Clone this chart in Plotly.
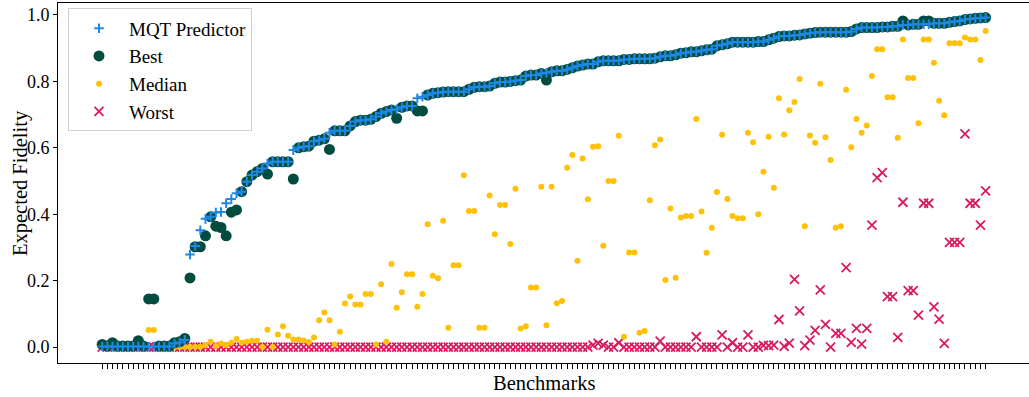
import plotly.graph_objects as go

# Expected fidelity per benchmark (benchmarks sorted by the predictor's fidelity)
mqt_predictor = [
    0.002, 0.002, 0.002, 0.002, 0.002, 0.002, 0.002, 0.002, 0.002, 0.002,
    0.002, 0.002, 0.002, 0.002, 0.011, 0.014, 0.021, 0.279, 0.304, 0.352,
    0.386, 0.392, 0.405, 0.407, 0.433, 0.446, 0.463, 0.468, 0.498, 0.518,
    0.528, 0.538, 0.553, 0.558, 0.558, 0.558, 0.558, 0.593, 0.600, 0.603,
    0.605, 0.620, 0.623, 0.627, 0.645, 0.651, 0.651, 0.651, 0.666, 0.679,
    0.683, 0.683, 0.686, 0.694, 0.704, 0.709, 0.714, 0.716, 0.722, 0.726,
    0.726, 0.749, 0.754, 0.759, 0.764, 0.766, 0.768, 0.769, 0.769, 0.769,
    0.769, 0.776, 0.782, 0.784, 0.784, 0.786, 0.794, 0.798, 0.798, 0.800,
    0.802, 0.804, 0.816, 0.819, 0.819, 0.824, 0.826, 0.829, 0.832, 0.832,
    0.836, 0.841, 0.846, 0.849, 0.852, 0.852, 0.859, 0.862, 0.862, 0.862,
    0.862, 0.866, 0.866, 0.868, 0.868, 0.868, 0.868, 0.870, 0.874, 0.877,
    0.877, 0.880, 0.885, 0.886, 0.889, 0.889, 0.892, 0.895, 0.897, 0.907,
    0.910, 0.913, 0.918, 0.918, 0.918, 0.918, 0.918, 0.920, 0.920, 0.925,
    0.930, 0.935, 0.937, 0.937, 0.939, 0.940, 0.943, 0.945, 0.947, 0.948,
    0.948, 0.948, 0.948, 0.948, 0.948, 0.950, 0.958, 0.962, 0.962, 0.962,
    0.962, 0.964, 0.964, 0.966, 0.966, 0.970, 0.970, 0.972, 0.972, 0.972,
    0.972, 0.975, 0.975, 0.975, 0.978, 0.980, 0.982, 0.986, 0.988, 0.990,
    0.991, 0.992,
]

best = [
    0.008, 0.003, 0.013, 0.003, 0.003, 0.003, 0.003, 0.019, 0.003, 0.145,
    0.145, 0.003, 0.003, 0.003, 0.013, 0.016, 0.026, 0.208, 0.302, 0.302,
    0.335, 0.392, 0.364, 0.360, 0.335, 0.406, 0.413, 0.468, 0.498, 0.518,
    0.528, 0.538, 0.521, 0.558, 0.558, 0.558, 0.558, 0.506, 0.600, 0.603,
    0.605, 0.620, 0.623, 0.627, 0.595, 0.651, 0.651, 0.651, 0.666, 0.679,
    0.683, 0.683, 0.686, 0.694, 0.704, 0.709, 0.714, 0.689, 0.722, 0.726,
    0.726, 0.711, 0.711, 0.759, 0.764, 0.766, 0.768, 0.769, 0.769, 0.769,
    0.769, 0.776, 0.782, 0.784, 0.784, 0.786, 0.794, 0.798, 0.798, 0.800,
    0.802, 0.804, 0.816, 0.819, 0.819, 0.824, 0.804, 0.829, 0.832, 0.832,
    0.836, 0.841, 0.846, 0.849, 0.852, 0.852, 0.859, 0.862, 0.862, 0.862,
    0.862, 0.866, 0.866, 0.868, 0.868, 0.868, 0.868, 0.870, 0.874, 0.877,
    0.877, 0.880, 0.885, 0.886, 0.889, 0.889, 0.892, 0.895, 0.897, 0.907,
    0.910, 0.913, 0.918, 0.918, 0.918, 0.918, 0.918, 0.920, 0.920, 0.925,
    0.930, 0.935, 0.937, 0.937, 0.939, 0.940, 0.943, 0.945, 0.947, 0.948,
    0.948, 0.948, 0.948, 0.948, 0.948, 0.950, 0.958, 0.962, 0.962, 0.962,
    0.962, 0.964, 0.964, 0.966, 0.966, 0.982, 0.970, 0.972, 0.972, 0.982,
    0.982, 0.975, 0.975, 0.975, 0.978, 0.980, 0.982, 0.986, 0.988, 0.990,
    0.991, 0.992,
]

median = [
    0.000, 0.000, 0.000, 0.000, 0.000, 0.000, 0.000, 0.000, 0.000, 0.051,
    0.051, 0.000, 0.000, 0.000, 0.000, 0.000, 0.000, 0.000, 0.001, 0.001,
    0.006, 0.016, 0.003, 0.011, 0.006, 0.013, 0.024, 0.013, 0.016, 0.019,
    0.019, 0.000, 0.052, 0.000, 0.038, 0.063, 0.034, 0.023, 0.023, 0.020,
    0.015, 0.029, 0.081, 0.104, 0.081, 0.008, 0.046, 0.131, 0.152, 0.128,
    0.128, 0.160, 0.160, 0.008, 0.189, 0.016, 0.250, 0.118, 0.165, 0.219,
    0.219, 0.121, 0.160, 0.370, 0.215, 0.207, 0.380, 0.058, 0.246, 0.246,
    0.517, 0.410, 0.410, 0.058, 0.058, 0.456, 0.340, 0.428, 0.428, 0.310,
    0.477, 0.056, 0.063, 0.179, 0.179, 0.483, 0.066, 0.483, 0.132, 0.139,
    0.540, 0.578, 0.260, 0.568, 0.445, 0.603, 0.605, 0.305, 0.500, 0.500,
    0.636, 0.031, 0.285, 0.285, 0.043, 0.048, 0.442, 0.608, 0.625, 0.202,
    0.417, 0.209, 0.390, 0.395, 0.395, 0.687, 0.408, 0.284, 0.359, 0.467,
    0.639, 0.446, 0.395, 0.388, 0.388, 0.645, 0.617, 0.400, 0.528, 0.633,
    0.480, 0.749, 0.640, 0.713, 0.738, 0.807, 0.364, 0.637, 0.615, 0.793,
    0.632, 0.563, 0.359, 0.364, 0.775, 0.602, 0.687, 0.645, 0.667, 0.816,
    0.897, 0.897, 0.752, 0.752, 0.630, 0.926, 0.810, 0.810, 0.674, 0.926,
    0.926, 0.856, 0.742, 0.698, 0.915, 0.915, 0.915, 0.932, 0.926, 0.926,
    0.864, 0.952,
]

worst = [
    0.000, 0.000, 0.000, 0.000, 0.000, 0.000, 0.000, 0.000, 0.000, 0.000,
    0.000, 0.000, 0.000, 0.000, 0.000, 0.000, 0.000, 0.000, 0.000, 0.000,
    0.000, 0.000, 0.000, 0.000, 0.000, 0.000, 0.000, 0.000, 0.000, 0.000,
    0.000, 0.000, 0.000, 0.000, 0.000, 0.000, 0.000, 0.000, 0.000, 0.000,
    0.000, 0.000, 0.000, 0.000, 0.000, 0.000, 0.000, 0.000, 0.000, 0.000,
    0.000, 0.000, 0.000, 0.000, 0.000, 0.000, 0.000, 0.000, 0.000, 0.000,
    0.000, 0.000, 0.000, 0.000, 0.000, 0.000, 0.000, 0.000, 0.000, 0.000,
    0.000, 0.000, 0.000, 0.000, 0.000, 0.000, 0.000, 0.000, 0.000, 0.000,
    0.000, 0.000, 0.000, 0.000, 0.000, 0.000, 0.000, 0.000, 0.000, 0.000,
    0.000, 0.000, 0.000, 0.000, 0.000, 0.006, 0.011, 0.006, 0.000, 0.000,
    0.013, 0.000, 0.000, 0.000, 0.000, 0.000, 0.000, 0.000, 0.018, 0.000,
    0.000, 0.000, 0.000, 0.000, 0.000, 0.031, 0.000, 0.000, 0.000, 0.000,
    0.037, 0.000, 0.013, 0.000, 0.000, 0.037, 0.000, 0.000, 0.005, 0.004,
    0.006, 0.083, 0.002, 0.012, 0.204, 0.109, 0.004, 0.021, 0.050, 0.172,
    0.068, 0.000, 0.041, 0.041, 0.239, 0.014, 0.056, 0.009, 0.056, 0.367,
    0.510, 0.525, 0.152, 0.152, 0.029, 0.436, 0.170, 0.170, 0.096, 0.433,
    0.433, 0.121, 0.084, 0.011, 0.315, 0.315, 0.315, 0.642, 0.433, 0.433,
    0.367, 0.470,
]

y_ticks = [0.0, 0.2, 0.4, 0.6, 0.8, 1.0]
y_tick_labels = ["0.0", "0.2", "0.4", "0.6", "0.8", "1.0"]

benchmarks = list(range(len(mqt_predictor)))

FONT = "Liberation Serif, Times New Roman, serif"

fig = go.Figure()

# drawn bottom to top: worst, median, best, predictor
fig.add_trace(go.Scatter(
    x=benchmarks, y=worst, mode="markers", name="Worst", legendrank=4,
    marker=dict(symbol="x-thin", size=9, color="#D81B60",
                line=dict(color="#D81B60", width=1.8)),
))
fig.add_trace(go.Scatter(
    x=benchmarks, y=median, mode="markers", name="Median", legendrank=3,
    marker=dict(symbol="circle", size=6, color="#FFC107", line=dict(width=0)),
))
fig.add_trace(go.Scatter(
    x=benchmarks, y=best, mode="markers", name="Best", legendrank=2,
    marker=dict(symbol="circle", size=11, color="#004D40", line=dict(width=0)),
))
fig.add_trace(go.Scatter(
    x=benchmarks, y=mqt_predictor, mode="markers", name="MQT Predictor",
    legendrank=1,
    marker=dict(symbol="cross-thin", size=6.8, color="#1E88E5",
                line=dict(color="#1E88E5", width=2)),
))

fig.update_layout(
    width=1029, height=397,
    margin=dict(l=58, r=0, t=3, b=34),
    paper_bgcolor="white", plot_bgcolor="white",
    font=dict(family=FONT, color="black", size=18),
    showlegend=True,
    legend=dict(
        x=0.0103, y=0.985, xanchor="left", yanchor="top",
        bgcolor="rgba(255,255,255,0.85)", bordercolor="#d0d0d0", borderwidth=1,
        font=dict(family=FONT, size=19, color="black"),
        itemsizing="trace", itemwidth=50,
    ),
    xaxis=dict(
        range=[-8.55, 179.4], showgrid=False, zeroline=False,
        tickmode="array", tickvals=benchmarks, ticktext=["" for _ in benchmarks],
        ticks="outside", ticklen=5, tickwidth=1, tickcolor="black",
        showline=True, linecolor="black", linewidth=1, mirror=True,
    ),
    yaxis=dict(
        range=[-0.048, 1.036], showgrid=False, zeroline=False,
        tickmode="array", tickvals=y_ticks, ticktext=y_tick_labels,
        ticks="outside", ticklen=4, tickwidth=1, tickcolor="black",
        tickfont=dict(family=FONT, size=18, color="black"),
        showline=True, linecolor="black", linewidth=1, mirror=True,
    ),
    annotations=[
        dict(text="Benchmarks", xref="paper", yref="paper", x=0.5, y=-0.0556,
             xanchor="center", yanchor="middle", showarrow=False,
             font=dict(family=FONT, size=20.5, color="black")),
        dict(text="Expected Fidelity", xref="paper", yref="paper", x=-0.0391,
             y=0.5, xanchor="center", yanchor="middle", textangle=-90,
             showarrow=False, font=dict(family=FONT, size=20.5, color="black")),
    ],
)

fig.write_html("out.html")
